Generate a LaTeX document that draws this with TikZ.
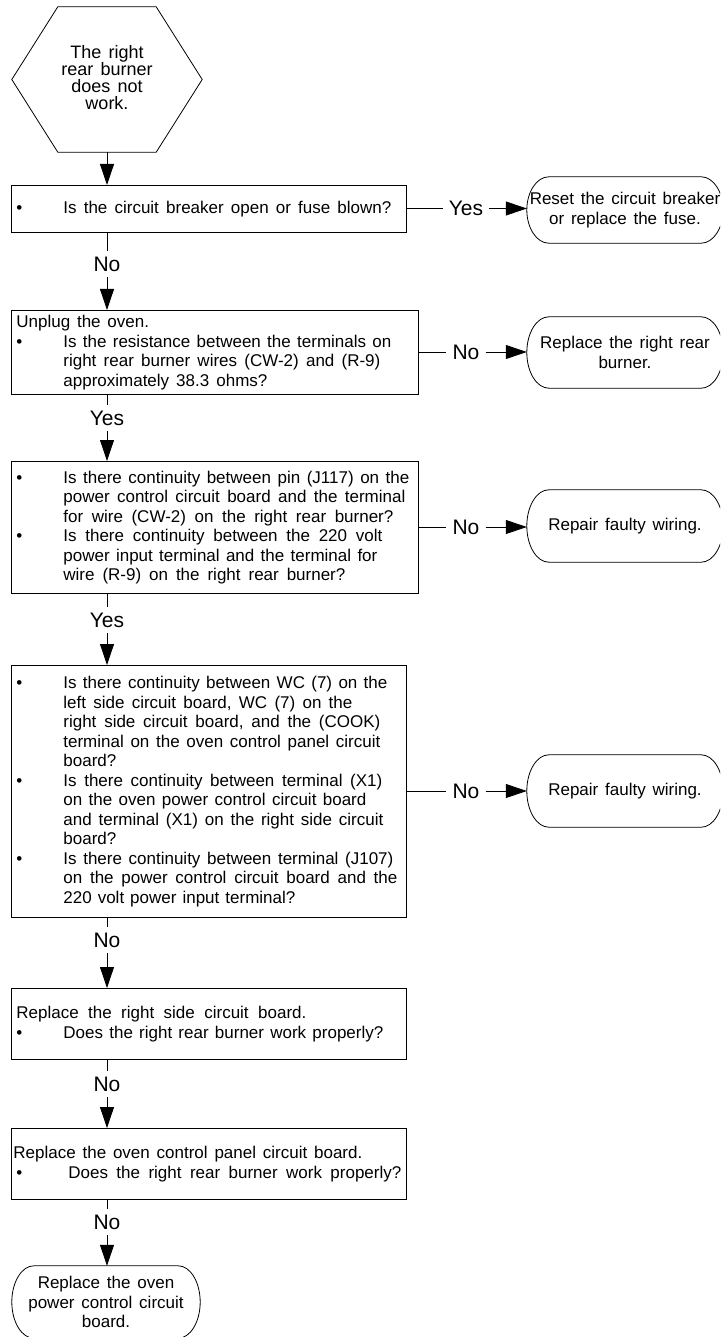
\documentclass[tikz,border=0pt]{standalone}
\usepackage{fontspec}
\setmainfont{Liberation Sans}
\usetikzlibrary{arrows.meta,calc}
\newcommand\bu{\makebox[47pt][l]{•}}
\newcommand\ind{\hspace*{47pt}}
\def\jlsplit#1 #2\jlend{#1\ifx\relax#2\relax\else\jlgap\jlsplit#2\jlend\fi}
\newcommand\jl[2]{\hbox to #1{\def\jlgap{\hskip 0.3em plus 1fil\relax}\jlsplit#2 \jlend}}
\newcommand\ws[1]{\hbox{\def\jlgap{\hskip 0.4em\relax}\jlsplit#1 \jlend}}
\newcommand\termoutline[2]{%
  \draw[line] ([xshift=22pt]#1.north west) -- ([xshift=-22pt]#1.north east)
    .. controls ([xshift=-9.9pt]#1.north east) and ([yshift=#2]#1.east) .. (#1.east)
    .. controls ([yshift=-#2]#1.east) and ([xshift=-9.9pt]#1.south east) .. ([xshift=-22pt]#1.south east)
    -- ([xshift=22pt]#1.south west)
    .. controls ([xshift=9.9pt]#1.south west) and ([yshift=-#2]#1.west) .. (#1.west)
    .. controls ([yshift=#2]#1.west) and ([xshift=9.9pt]#1.north west) .. ([xshift=22pt]#1.north west)
    -- cycle;}
\begin{document}
\begin{tikzpicture}[x=1pt,y=-1pt,
  line/.style={draw=black, line width=0.8pt},
  arr/.style={line, -{Triangle[length=21pt,width=14pt]}},
  box/.style={line, anchor=north west, inner xsep=5pt, inner ysep=0pt, align=left,
    font={\fontsize{17}{19.5}\selectfont}},
  term/.style={inner sep=0pt, align=center, minimum width=196pt,
    font={\fontsize{17}{19.5}\selectfont}},
  hexa/.style={inner sep=0pt, align=center, minimum width=98pt, minimum height=145pt,
    font={\fontsize{18}{17}\selectfont}},
  lbl/.style={inner xsep=6pt, inner ysep=0pt, minimum height=26pt,
    font={\fontsize{21}{21}\selectfont}},
]
\clip (0,0) rectangle (720,1337);
\fill[white] (0,0) rectangle (720,1337);

% start hexagon
\node[hexa] (hx) at (107,78) {\ws{The right}\\\ws{rear burner}\\\ws{does not}\\work.};
\draw[line] ([yshift=-1.5pt]hx.north west) -- ([yshift=-1.5pt]hx.north east) -- ($(hx.east)+(46,1.5)$) -- ([yshift=-1.5pt]hx.south east)
  -- ([yshift=-1.5pt]hx.south west) -- ($(hx.west)+(-46,1.5)$) -- cycle;

% boxes
\node[box, text width=385pt, minimum height=47pt] (b1) at (11,185)
  {\bu\jl{328pt}{Is the circuit breaker open or fuse blown?}};

\node[box, text width=397pt, minimum height=84pt] (b2) at (11,310)
  {\ws{Unplug the oven.}\\
   \bu\jl{328pt}{Is the resistance between the terminals on}\\
   \ind\jl{317pt}{right rear burner wires (CW-2) and (R-9)}\\
   \ind\jl{204pt}{approximately 38.3 ohms?}};

\node[box, text width=397pt, minimum height=132pt] (b3) at (11,461)
  {\bu\jl{346pt}{Is there continuity between pin (J117) on the}\\
   \ind\jl{342pt}{power control circuit board and the terminal}\\
   \ind\jl{330pt}{for wire (CW-2) on the right rear burner?}\\
   \bu\jl{319pt}{Is there continuity between the 220 volt}\\
   \ind\jl{314pt}{power input terminal and the terminal for}\\
   \ind\jl{282pt}{wire (R-9) on the right rear burner?}};

\node[box, text width=385pt, minimum height=252pt] (b4) at (11,665)
  {\bu\jl{324pt}{Is there continuity between WC (7) on the}\\
   \ind\jl{289pt}{left side circuit board, WC (7) on the}\\
   \ind\jl{317pt}{right side circuit board, and the (COOK)}\\
   \ind\jl{317pt}{terminal on the oven control panel circuit}\\
   \ind board?\\
   \bu\jl{319pt}{Is there continuity between terminal (X1)}\\
   \ind\jl{303pt}{on the oven power control circuit board}\\
   \ind\jl{320pt}{and terminal (X1) on the right side circuit}\\
   \ind board?\\
   \bu\jl{330pt}{Is there continuity between terminal (J107)}\\
   \ind\jl{334pt}{on the power control circuit board and the}\\
   \ind\jl{232pt}{220 volt power input terminal?}};

\node[box, text width=385pt, minimum height=71pt] (b5) at (11,988)
  {\jl{290pt}{Replace the right side circuit board.}\\
   \bu\jl{320pt}{Does the right rear burner work properly?}};

\node[box, text width=385pt, minimum height=71pt] (b6) at (11,1128)
  {\hspace*{-3pt}\jl{349pt}{Replace the oven control panel circuit board.}\\
   \bu\hspace*{5pt}\jl{333pt}{Does the right rear burner work properly?}};

% terminals
\node[term, minimum height=66pt] (t1) at (625,210) {\ws{Reset the circuit breaker}\\\ws{or replace the fuse.}};
\termoutline{t1}{18pt}
\node[term, minimum height=71pt] (t2) at (625,352.5) {\ws{Replace the right rear}\\burner.};
\termoutline{t2}{19.6pt}
\node[term, minimum height=72pt] (t3) at (625,526) {\ws{Repair faulty wiring.}};
\termoutline{t3}{19.9pt}
\node[term, minimum height=72pt] (t4) at (625,791) {\ws{Repair faulty wiring.}};
\termoutline{t4}{19.9pt}
\node[term, minimum width=188pt, minimum height=72pt] (t6) at (106,1302)
  {\ws{Replace the oven}\\\ws{power control circuit}\\board.};
\termoutline{t6}{19.9pt}

% labels
\node[lbl] (y1) at (466,208.5) {Yes};
\node[lbl] (n2) at (466,352) {No};
\node[lbl] (n3) at (466,527) {No};
\node[lbl] (n4) at (466,791) {No};
\node[lbl] (l1) at (107,264) {No};
\node[lbl] (l2) at (107,418) {Yes};
\node[lbl] (l3) at (107,620) {Yes};
\node[lbl] (l4) at (107,940) {No};
\node[lbl] (l5) at (107,1084) {No};
\node[lbl] (l6) at (107,1222) {No};

% vertical connectors
\draw[arr] ([yshift=-1.5pt]hx.south) -- (hx.south |- b1.north);
\draw[line] (b1.south -| l1) -- (l1.north);
\draw[arr] (l1.south) -- (l1 |- b2.north);
\draw[line] (b2.south -| l2) -- (l2.north);
\draw[arr] (l2.south) -- (l2 |- b3.north);
\draw[line] (b3.south -| l3) -- (l3.north);
\draw[arr] (l3.south) -- (l3 |- b4.north);
\draw[line] (b4.south -| l4) -- (l4.north);
\draw[arr] (l4.south) -- (l4 |- b5.north);
\draw[line] (b5.south -| l5) -- (l5.north);
\draw[arr] (l5.south) -- (l5 |- b6.north);
\draw[line] (b6.south -| l6) -- (l6.north);
\draw[arr] (l6.south) -- (l6 |- t6.north);

% horizontal connectors
\draw[line] (b1.east |- y1) -- (y1.west);
\draw[arr] (y1.east) -- (y1 -| t1.west);
\draw[line] (b2.east |- n2) -- (n2.west);
\draw[arr] (n2.east) -- (n2 -| t2.west);
\draw[line] (b3.east |- n3) -- (n3.west);
\draw[arr] (n3.east) -- (n3 -| t3.west);
\draw[line] (b4.east |- n4) -- (n4.west);
\draw[arr] (n4.east) -- (n4 -| t4.west);
\end{tikzpicture}
\end{document}
